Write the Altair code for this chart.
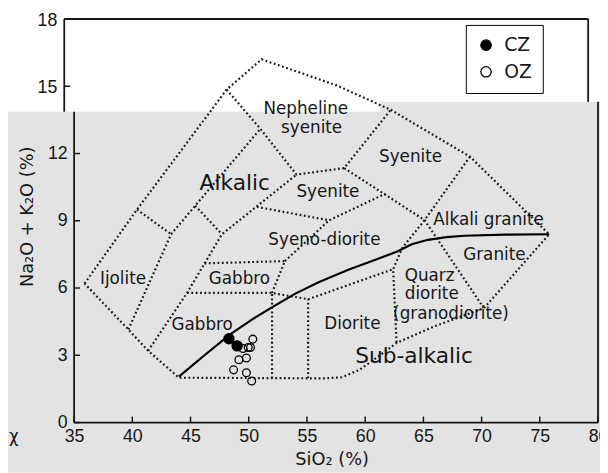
import altair as alt
import pandas as pd

# ---------------- data (SiO2 %, Na2O+K2O %) ----------------
x_ticks = [35, 40, 45, 50, 55, 60, 65, 70, 75, 80]
y_ticks_low = [0, 3, 6, 9, 12]
y_ticks_high = [15, 18]

# field boundaries (dotted)
outer = [(35.9, 6.2), (40.4, 9.5), (48.1, 14.85), (51.1, 16.2), (57.5, 15.05),
         (62.2, 13.95), (69.0, 11.86), (75.8, 8.4), (70.2, 5.1), (66.0, 4.3),
         (62.7, 3.55), (61.0, 2.9), (59.5, 2.35), (58.0, 2.02), (56.5, 1.97),
         (44.0, 2.0), (41.36, 3.2), (39.66, 4.15), (35.9, 6.2)]
ijolite_right = [(39.66, 4.15), (43.33, 8.4)]
ijolite_top = [(40.4, 9.5), (43.33, 8.4)]
tephrite_line = [(43.33, 8.4), (51.0, 13.1)]
neph_syenite_base = [(48.1, 14.85), (51.0, 13.1), (54.1, 11.06), (58.2, 11.35), (62.2, 13.95)]
gabbro_left = [(41.36, 3.2), (44.7, 5.78), (47.7, 8.4), (54.1, 11.06)]
short_sep = [(45.4, 9.67), (47.7, 8.4)]
gabbro_top = [(44.7, 5.78), (52.0, 5.78), (55.1, 5.5), (62.4, 6.84)]
upper_gabbro = [(46.2, 7.1), (53.1, 7.2), (52.0, 5.78)]
syenodiorite_right = [(53.1, 7.2), (56.9, 9.02)]
syenite_base = [(50.7, 9.62), (56.9, 9.02), (61.7, 10.2)]
diagonal_1 = [(58.2, 11.35), (65.1, 9.03), (70.2, 5.1)]
diagonal_2 = [(69.0, 11.86), (65.1, 9.03), (63.2, 7.8), (62.4, 6.84), (62.55, 5.2), (62.7, 3.55)]
vert_52 = [(52.0, 1.97), (52.0, 5.78)]
vert_55 = [(55.1, 1.97), (55.1, 5.5)]

# alkaline / sub-alkaline divide (solid)
solid_x = [44.0, 46.2, 48.4, 50.3, 52.1, 54.0, 56.0, 58.5, 61.0, 62.8, 64.0, 65.4, 67.0, 68.5, 72.0, 75.8]
solid_y = [2.05, 3.0, 3.93, 4.6, 5.17, 5.75, 6.26, 6.8, 7.28, 7.64, 7.95, 8.15, 8.27, 8.33, 8.38, 8.4]

# samples
oz_x = [50.35, 49.95, 49.5, 50.15, 49.15, 49.8, 48.7, 49.8, 50.25]
oz_y = [3.72, 3.35, 3.30, 3.35, 2.80, 2.88, 2.35, 2.22, 1.85]
cz_x = [48.3, 49.0]
cz_y = [3.74, 3.42]

# field names
lab_text = ["Nepheline", "syenite", "Syenite", "Syenite", "Syeno-diorite", "Alkali granite",
            "Granite", "Gabbro", "Gabbro", "Ijolite", "Diorite"]
lab_x = [54.9, 55.4, 63.9, 56.8, 56.5, 70.6, 71.1, 49.2, 46.0, 39.2, 58.9]
lab_y = [13.97, 13.14, 11.86, 10.26, 8.15, 9.03, 7.47, 6.4, 4.37, 6.4, 4.41]
qd_text = ["Quarz", "diorite", "(granodiorite)"]
qd_x = [63.4, 63.4, 62.4]
qd_y = [6.55, 5.72, 4.85]
series_text = ["Alkalic", "Sub-alkalic"]
series_x = [48.8, 64.2]
series_y = [10.7, 2.97]

# ---------------- tables ----------------
dotted = {"outer": outer, "ijolite_right": ijolite_right, "ijolite_top": ijolite_top,
          "tephrite_line": tephrite_line, "neph_syenite_base": neph_syenite_base,
          "gabbro_left": gabbro_left, "short_sep": short_sep, "gabbro_top": gabbro_top,
          "upper_gabbro": upper_gabbro, "syenodiorite_right": syenodiorite_right,
          "syenite_base": syenite_base, "diagonal_1": diagonal_1, "diagonal_2": diagonal_2,
          "vert_52": vert_52, "vert_55": vert_55}
rows = []
for name, pts in dotted.items():
    for i, (x, y) in enumerate(pts):
        rows.append({"seg": name, "i": i, "x": x, "y": y})
dotted_df = pd.DataFrame(rows)
solid_df = pd.DataFrame({"i": list(range(len(solid_x))), "x": solid_x, "y": solid_y})
oz_df = pd.DataFrame({"x": oz_x, "y": oz_y, "group": ["OZ"] * len(oz_x)})
cz_df = pd.DataFrame({"x": cz_x, "y": cz_y, "group": ["CZ"] * len(cz_x)})
lab_df = pd.DataFrame({"x": lab_x, "y": lab_y, "t": lab_text})
qd_df = pd.DataFrame({"x": qd_x, "y": qd_y, "t": qd_text})
series_df = pd.DataFrame({"x": series_x, "y": series_y, "t": series_text})

W, H = 531, 409
INK = "#161616"
GREY = "#e3e3e3"
xs = alt.Scale(domain=[35, 80], nice=False, zero=False)
ys = alt.Scale(domain=[0, 18], nice=False, zero=False)

x_axis = alt.Axis(values=x_ticks, ticks=False, domain=False, grid=False,
                  labelFont="Liberation Sans", labelFontSize=18, labelColor=INK,
                  labelPadding=5, labelFlush=False, labelOverlap=False,
                  title="SiO₂ (%)", titleFont="DejaVu Sans", titleFontSize=18,
                  titleFontWeight="normal", titleColor=INK, titleX=261, titleY=38,
                  titleBaseline="middle", zindex=1)
y_axis = alt.Axis(values=y_ticks_low, ticks=False, domain=False, grid=False,
                  labelFont="Liberation Sans", labelFontSize=18, labelColor=INK,
                  labelPadding=7, labelFlush=False, labelOverlap=False,
                  title="Na₂O + K₂O (%)", titleFont="DejaVu Sans", titleFontSize=18,
                  titleFontWeight="normal", titleColor=INK, titleX=-47, titleY=200,
                  titleBaseline="middle", zindex=1)


def X(f="x"):
    return alt.X(f"{f}:Q", scale=xs, axis=x_axis)


def Y(f="y"):
    return alt.Y(f"{f}:Q", scale=ys, axis=y_axis)


fill_scale = alt.Scale(domain=["CZ", "OZ"], range=["black", "transparent"])
legend = alt.Legend(title=None, orient="none", legendX=397, legendY=6,
                    padding=11, strokeColor="black", fillColor="white",
                    labelFont="DejaVu Sans", labelFontSize=19, labelColor=INK,
                    symbolType="circle", symbolSize=110, symbolStrokeColor="black",
                    symbolStrokeWidth=1.3, rowPadding=7, labelOffset=9,
                    labelExpr="datum.label + '\u00a0\u00a0\u00a0\u00a0\u00a0'")

one = pd.DataFrame({"a": [0]})
layers = []

# grey scanned lower part
layers.append(alt.Chart(one).mark_rect(color=GREY).encode(
    x=alt.value(-67), x2=alt.value(310), y=alt.value(94), y2=alt.value(460)))
layers.append(alt.Chart(one).mark_rect(color=GREY).encode(
    x=alt.value(310), x2=alt.value(533), y=alt.value(84), y2=alt.value(460)))

# frame pieces
frame = [(-10, 0, 521, 0), (-10, 0, -10, 94), (521, 0, 521, 84),
         (0, 94, 0, 409), (0, 409, 531, 409), (531, 84, 531, 409)]
for (a, b, c, d) in frame:
    layers.append(alt.Chart(one).mark_rule(color=INK, strokeWidth=1.8).encode(
        x=alt.value(a), y=alt.value(b), x2=alt.value(c), y2=alt.value(d)))

# inward ticks
layers.append(alt.Chart(pd.DataFrame({"v": y_ticks_low})).mark_rule(color=INK, strokeWidth=1.5).encode(
    y=Y("v"), x=alt.value(0), x2=alt.value(6)))
layers.append(alt.Chart(pd.DataFrame({"v": y_ticks_high})).mark_rule(color=INK, strokeWidth=1.5).encode(
    y=Y("v"), x=alt.value(-10), x2=alt.value(-4)))
layers.append(alt.Chart(pd.DataFrame({"v": x_ticks})).mark_rule(color=INK, strokeWidth=1.5).encode(
    x=X("v"), y=alt.value(409), y2=alt.value(403)))
# labels of the upper (white) part of the axis
layers.append(alt.Chart(pd.DataFrame({"v": y_ticks_high, "t": [str(v) for v in y_ticks_high]})).mark_text(
    align="right", baseline="middle", font="Liberation Sans", fontSize=18, color=INK, dy=2).encode(
    y=Y("v"), x=alt.value(-17), text="t:N"))

# dotted field boundaries
layers.append(alt.Chart(dotted_df).mark_line(color=INK, strokeWidth=2.2, strokeDash=[1.8, 2.6]).encode(
    x=X(), y=Y(), detail="seg:N", order="i:Q"))
# solid divide
layers.append(alt.Chart(solid_df).mark_line(color="black", strokeWidth=2.2).encode(
    x=X(), y=Y(), order="i:Q"))

# samples
layers.append(alt.Chart(oz_df).mark_point(filled=True, stroke="black", strokeWidth=1.3,
                                          opacity=1, fillOpacity=1, size=62).encode(
    x=X(), y=Y(), fill=alt.Fill("group:N", scale=fill_scale, legend=legend)))
layers.append(alt.Chart(cz_df).mark_point(filled=True, stroke="black", strokeWidth=1.3,
                                          opacity=1, fillOpacity=1, size=105).encode(
    x=X(), y=Y(), fill=alt.Fill("group:N", scale=fill_scale, legend=legend)))

# field names
layers.append(alt.Chart(lab_df).mark_text(font="DejaVu Sans", fontSize=17, color=INK,
                                          align="center", baseline="middle").encode(
    x=X(), y=Y(), text="t:N"))
layers.append(alt.Chart(qd_df).mark_text(font="DejaVu Sans", fontSize=17, color=INK,
                                         align="left", baseline="middle").encode(
    x=X(), y=Y(), text="t:N"))
layers.append(alt.Chart(series_df).mark_text(font="DejaVu Sans", fontSize=22, color=INK,
                                             align="center", baseline="middle").encode(
    x=X(), y=Y(), text="t:N"))
# stray glyph of the scan
layers.append(alt.Chart(pd.DataFrame({"t": ["χ"]})).mark_text(
    font="DejaVu Sans", fontSize=17, color=INK, align="center", baseline="middle").encode(
    x=alt.value(-61), y=alt.value(424), text="t:N"))

chart = alt.layer(*layers).properties(
    width=W, height=H,
    padding={"left": 67, "top": 8, "right": 2, "bottom": 48},
    autosize=alt.AutoSizeParams(type="none"),
    background="white",
).configure_view(stroke=None)

chart.save("out.html", embed_options={"renderer": "svg", "actions": False})
